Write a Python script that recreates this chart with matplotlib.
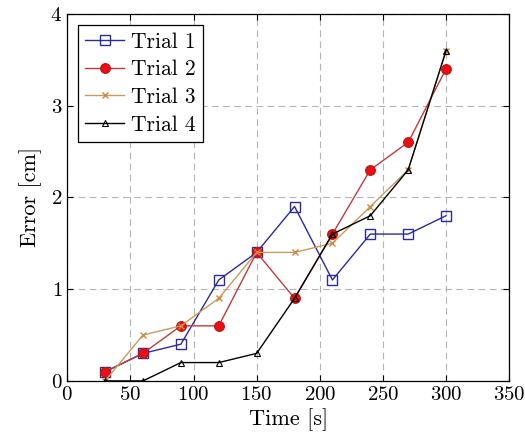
import numpy as np
import matplotlib
matplotlib.use("Agg")
import matplotlib.pyplot as plt

plt.rcParams['font.family'] = 'serif'
plt.rcParams['font.serif'] = ['cmr10']
plt.rcParams['mathtext.fontset'] = 'cm'
plt.rcParams['axes.formatter.use_mathtext'] = True

time = [30, 60, 90, 120, 150, 180, 210, 240, 270, 300]
trial1 = [0.1, 0.3, 0.4, 1.1, 1.4, 1.9, 1.1, 1.6, 1.6, 1.8]
trial2 = [0.1, 0.3, 0.6, 0.6, 1.4, 0.9, 1.6, 2.3, 2.6, 3.4]
trial3 = [0.0, 0.5, 0.6, 0.9, 1.4, 1.4, 1.5, 1.9, 2.3, 3.6]
trial4 = [0.0, 0.0, 0.2, 0.2, 0.3, 0.9, 1.6, 1.8, 2.3, 3.6]

fig = plt.figure(figsize=(5.25, 4.45), dpi=100)
ax = fig.add_axes([0.128, 0.144, 0.842, 0.825])

ax.plot(time, trial1, color='#2b2b9e', lw=1, marker='s', ms=6.5,
        mfc='none', mec='#2b2b9e', mew=1, label='Trial 1')
ax.plot(time, trial2, color='#c23a3a', lw=1, marker='o', ms=7,
        mfc='#e81010', mec='#c01010', mew=0.8, label='Trial 2')
ax.plot(time, trial3, color='#c99a5a', lw=1, marker='x', ms=4.5,
        mec='#c98a40', mew=1, label='Trial 3')
ax.plot(time, trial4, color='black', lw=1, marker='^', ms=5,
        mfc='none', mec='black', mew=0.8, label='Trial 4')

ax.set_xlim(0, 350)
ax.set_ylim(0, 4)
ax.set_xticks(np.arange(0, 351, 50))
ax.set_yticks([0, 1, 2, 3, 4])
ax.grid(True, color='#b4b4b4', linestyle=(0, (6, 4)), lw=0.8)
ax.tick_params(direction='in', top=True, right=True, length=4, labelsize=15)
for s in ax.spines.values():
    s.set_linewidth(0.9)

ax.set_xlabel('Time [s]', fontsize=16, labelpad=3)
ax.set_ylabel('Error [cm]', fontsize=16, labelpad=6)

leg = ax.legend(loc='upper left', fontsize=15.5, fancybox=False, edgecolor='black',
                framealpha=1, borderpad=0.35, labelspacing=0.38, handlelength=1.8,
                handletextpad=0.3)
leg.get_frame().set_linewidth(0.9)

fig.savefig('out.png', dpi=100)
